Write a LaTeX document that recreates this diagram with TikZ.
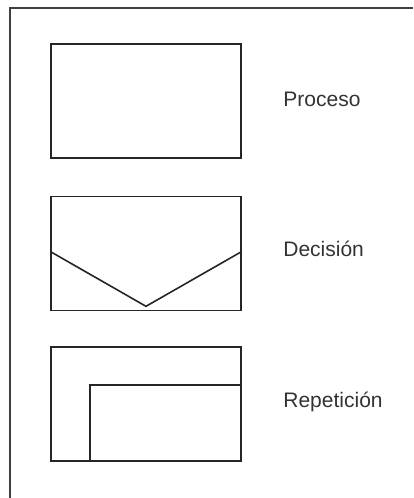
\documentclass[tikz,border=0pt]{standalone}
\usepackage{fontspec}
\setmainfont{Liberation Sans}
\usetikzlibrary{positioning,calc}

\tikzset{
  shapebox/.style={draw=black!85, line width=0.8pt, inner sep=0pt,
    minimum width=95pt, minimum height=57pt},
  shapename/.style={text=black!80, font=\fontsize{10.5}{12}\selectfont,
    anchor=west, inner sep=0pt},
}

\begin{document}
\begin{tikzpicture}[x=0.5pt, y=-0.5pt]
  \useasboundingbox (0,0) rectangle (413,498);
  % frame, only top and left edges show
  \coordinate (frametl) at (10,8);
  \draw[black!75, line width=0.7pt] (10,498) -- (frametl) -- (413,8);

  % Proceso
  \node[shapebox] (proc) at (146,101) {};
  \node[shapename] (lproc) at (283,99) {Proceso};

  % Decision
  \node[shapebox] (dec) at (146,253.5) {};
  \draw[black!85, line width=0.8pt]
    ([yshift=1pt]dec.west) -- ([yshift=2.5pt]dec.south) -- ([yshift=1pt]dec.east);
  \node[shapename] (ldec) at (283,249) {Decisión};

  % Repeticion
  \node[shapebox] (rep) at (146,404) {};
  \node[shapebox, anchor=south east, minimum width=75.5pt, minimum height=38pt]
    (repin) at (rep.south east) {};
  \node[shapename] (lrep) at (283,402) {Repetición};
\end{tikzpicture}
\end{document}
